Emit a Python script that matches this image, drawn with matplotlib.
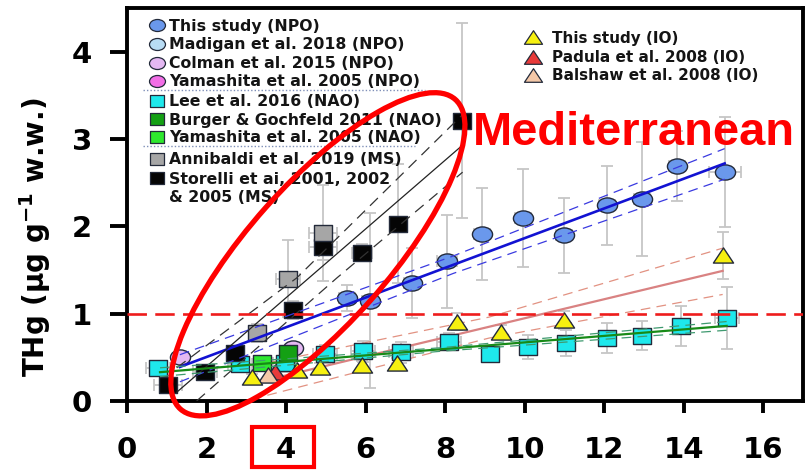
import numpy as np
import matplotlib
matplotlib.use("Agg")
import matplotlib.pyplot as plt
from matplotlib.path import Path
from matplotlib.patches import Ellipse, Rectangle
from matplotlib.transforms import ScaledTranslation

plt.rcParams["lines.scale_dashes"] = False
plt.rcParams["font.family"] = ["DejaVu Sans"]
plt.rcParams["mathtext.fontset"] = "dejavusans"

# ---------------- data ----------------
# This study (NPO)
npo_x = [5.53, 6.10, 7.16, 8.04, 8.92, 9.95, 10.98, 12.06, 12.96, 13.84, 15.03]
npo_y = [1.18, 1.15, 1.35, 1.60, 1.91, 2.10, 1.90, 2.24, 2.31, 2.69, 2.62]
npo_yerr = [0.15, 1.00, 0.40, 0.53, 0.53, 0.56, 0.43, 0.45, 0.65, 0.40, 0.63]
npo_xerr = [0.20, 0.20, 0.20, 0.25, 0.20, 0.20, 0.20, 0.20, 0.20, 0.20, 0.40]

# Colman et al. 2015 (NPO)
colman_x = [1.33, 4.17]
colman_y = [0.50, 0.61]

# Lee et al. 2016 (NAO)
lee_x = [0.78, 2.84, 3.97, 4.97, 5.93, 6.88, 8.09, 9.12, 10.08, 11.05, 12.06, 12.96, 13.94, 15.08]
lee_y = [0.38, 0.42, 0.43, 0.54, 0.57, 0.56, 0.68, 0.54, 0.62, 0.66, 0.72, 0.75, 0.86, 0.95]
lee_yerr = [0.05, 0.08, 0.10, 0.10, 0.12, 0.12, 0.10, 0.08, 0.14, 0.15, 0.17, 0.17, 0.23, 0.35]
lee_xerr = [0.30, 0.30, 0.30, 0.30, 0.30, 0.30, 0.30, 0.20, 0.20, 0.20, 0.20, 0.20, 0.20, 0.30]

# Burger & Gochfeld 2011 (NAO) / Yamashita et al. 2005 (NAO)
burger_x = [4.05]
burger_y = [0.55]
yamashita_nao_x = [3.39]
yamashita_nao_y = [0.43]

# Annibaldi et al. 2019 (MS)
anni_x = [3.27, 4.05, 4.92]
anni_y = [0.78, 1.40, 1.92]
anni_yerr = [0.10, 0.44, 0.55]
anni_xerr = [0.20, 0.30, 0.35]

# Storelli et al. 2001, 2002 & 2005 (MS)
store_x = [1.03, 1.96, 2.71, 4.17, 4.92, 5.90, 6.81, 8.42]
store_y = [0.18, 0.33, 0.55, 1.04, 1.76, 1.70, 2.03, 3.21]
store_yerr = [0.05, 0.05, 0.08, 0.10, 0.15, 0.10, 0.68, 1.12]
store_xerr = [0.35, 0.30, 0.20, 0.20, 0.35, 0.25, 0.20, 0.20]

# This study (IO)
io_x = [3.14, 4.27, 4.85, 5.90, 6.78, 8.30, 9.40, 11.00, 15.00]
io_y = [0.28, 0.35, 0.39, 0.41, 0.43, 0.91, 0.79, 0.93, 1.67]
io_yerr = [0.03, 0.05, 0.05, 0.05, 0.06, 0.10, 0.08, 0.10, 0.27]

# Padula et al. 2008 (IO) / Balshaw et al. 2008 (IO)
padula_x = [3.72]
padula_y = [0.33]
balshaw_x = [3.55]
balshaw_y = [0.30]

# regression lines and confidence bands
npo_fit_x = [1.33, 15.03]
npo_fit_y = [0.39, 2.72]
npo_band_x = [1.33, 8.2, 15.03]
npo_band_hi = [0.53, 1.66, 2.89]
npo_band_lo = [0.22, 1.46, 2.54]

ms_fit_x = [1.25, 8.44]
ms_fit_y = [0.10, 2.93]
ms_hi_x = [1.25, 4.27, 8.44]
ms_hi_y = [0.38, 1.41, 3.28]
ms_lo_x = [1.75, 5.28, 8.44]
ms_lo_y = [0.00, 1.41, 2.62]

nao_fit_x = [0.83, 15.08]
nao_fit_y = [0.33, 0.86]
nao_band_x = [0.83, 7.9, 15.08]
nao_band_hi = [0.38, 0.61, 0.91]
nao_band_lo = [0.28, 0.57, 0.81]

iof_x = [3.14, 14.98]
iof_y = [0.20, 1.49]
iof_band_x = [3.14, 9.1, 14.98]
iof_band_hi = [0.40, 0.96, 1.75]
iof_band_lo = [0.02, 0.72, 1.22]

threshold = 1.0

x_ticks = [0, 2, 4, 6, 8, 10, 12, 14, 16]
y_ticks = [0, 1, 2, 3, 4]

# ---------------- marker shapes (wide) ----------------
_c = Path.unit_circle()
CIRCLE = Path(_c.vertices * np.array([1.33, 1.0]), _c.codes)
SQUARE = Path([(-1.2, -1), (1.2, -1), (1.2, 1), (-1.2, 1), (-1.2, -1)],
              [Path.MOVETO, Path.LINETO, Path.LINETO, Path.LINETO, Path.CLOSEPOLY])
TRIANGLE = Path([(0, 1), (-1.33, -1), (1.33, -1), (0, 1)],
                [Path.MOVETO, Path.LINETO, Path.LINETO, Path.CLOSEPOLY])

C_NPO = "#6a98ec"
C_MADIGAN = "#b8dcf4"
C_COLMAN = "#e4b8f2"
C_YAM_NPO = "#f26ee6"
C_LEE = "#1ee8ec"
C_BURGER = "#14a014"
C_YAM_NAO = "#2ee82e"
C_ANNI = "#a6a6a6"
C_STORE = "#050505"
C_IO = "#f6f010"
C_PADULA = "#e83a3a"
C_BALSHAW = "#f4c8a8"
EDGE = "#232a3a"
ERR = "#c6c6c6"

fig = plt.figure(figsize=(8.06, 4.74), dpi=100)
ax = fig.add_axes([127 / 806, 1 - 401 / 474, 676 / 806, 393 / 474])
ax.set_xlim(0, 17)
ax.set_ylim(0, 4.5)

# error bars
eb = dict(fmt="none", ecolor=ERR, elinewidth=1.3, capsize=4.3, capthick=1.3, zorder=1)
ax.errorbar(npo_x, npo_y, yerr=npo_yerr, xerr=npo_xerr, **eb)
ax.errorbar(lee_x, lee_y, yerr=lee_yerr, xerr=lee_xerr, **eb)
ax.errorbar(anni_x, anni_y, yerr=anni_yerr, xerr=anni_xerr, **eb)
ax.errorbar(store_x, store_y, yerr=store_yerr, xerr=store_xerr, **eb)
ax.errorbar(io_x, io_y, yerr=io_yerr, **eb)


def pts(x, y, marker, color, size):
    ax.plot(x, y, linestyle="none", marker=marker, ms=size, mfc=color,
            mec=EDGE, mew=1.0, zorder=3)


pts(npo_x, npo_y, CIRCLE, C_NPO, 14.5)
pts(colman_x, colman_y, CIRCLE, C_COLMAN, 14.5)
pts(lee_x, lee_y, SQUARE, C_LEE, 13)
pts(yamashita_nao_x, yamashita_nao_y, SQUARE, C_YAM_NAO, 13)
pts(burger_x, burger_y, SQUARE, C_BURGER, 13)
pts(store_x, store_y, SQUARE, C_STORE, 13)
pts(anni_x, anni_y, SQUARE, C_ANNI, 13)
pts(padula_x, padula_y, TRIANGLE, C_PADULA, 14.5)
pts(balshaw_x, balshaw_y, TRIANGLE, C_BALSHAW, 14.5)
pts(io_x, io_y, TRIANGLE, C_IO, 14.5)

# regression lines
dash = (0, (7, 4.5))
ax.plot(npo_fit_x, npo_fit_y, color="#1212d2", lw=1.9, zorder=4)
ax.plot(npo_band_x, npo_band_hi, color="#3a3ae0", lw=0.9, ls=dash, zorder=4)
ax.plot(npo_band_x, npo_band_lo, color="#3a3ae0", lw=0.9, ls=dash, zorder=4)

ax.plot(ms_fit_x, ms_fit_y, color="#222222", lw=0.9, zorder=4)
ax.plot(ms_hi_x, ms_hi_y, color="#333333", lw=0.9, ls=(0, (8, 5)), zorder=4)
ax.plot(ms_lo_x, ms_lo_y, color="#333333", lw=0.9, ls=(0, (8, 5)), zorder=4)

ax.plot(nao_fit_x, nao_fit_y, color="#178a17", lw=1.6, zorder=4)
ax.plot(nao_band_x, nao_band_hi, color="#3f9a70", lw=0.9, ls=dash, zorder=4)
ax.plot(nao_band_x, nao_band_lo, color="#3f9a70", lw=0.9, ls=dash, zorder=4)

ax.plot(iof_x, iof_y, color="#d98282", lw=1.6, zorder=2.5)
ax.plot(iof_band_x, iof_band_hi, color="#e29282", lw=0.9, ls=dash, zorder=2.5)
ax.plot(iof_band_x, iof_band_lo, color="#e29282", lw=0.9, ls=dash, zorder=2.5)

ax.axhline(threshold, color="#ee1c1c", lw=1.9, ls=(0, (14, 6)), zorder=4.5)

# axes styling
for side in ["left", "bottom", "top", "right"]:
    ax.spines[side].set_linewidth(2.8)
    ax.spines[side].set_color("black")
ax.set_xticks(x_ticks)
ax.set_yticks(y_ticks)
ax.tick_params(axis="x", direction="out", length=8.5, width=2.8, pad=17,
               labelsize=21)
ax.tick_params(axis="y", direction="out", length=12, width=2.8, pad=13,
               labelsize=21)
for lab in ax.get_xticklabels() + ax.get_yticklabels():
    lab.set_fontweight("bold")
ax.set_ylabel(r"THg (μg g$^{\mathbf{-1}}$ w.w.)", fontsize=20, fontweight="bold")
ax.yaxis.set_label_coords(-0.136, 0.417)
ax.yaxis.label.set_va("center")

# legends (axes-fraction layout)
def fx(px):
    return (px - 127) / 676


def fy(py):
    return (401 - py) / 393


LEG_FS = 11.3

left_entries = [
    ("This study (NPO)", CIRCLE, C_NPO, 11.5, 25),
    ("Madigan et al. 2018 (NPO)", CIRCLE, C_MADIGAN, 11.5, 44),
    ("Colman et al. 2015 (NPO)", CIRCLE, C_COLMAN, 11.5, 63),
    ("Yamashita et al. 2005 (NPO)", CIRCLE, C_YAM_NPO, 11.5, 81),
    ("Lee et al. 2016 (NAO)", SQUARE, C_LEE, 10, 101),
    ("Burger & Gochfeld 2011 (NAO)", SQUARE, C_BURGER, 10, 119),
    ("Yamashita et al. 2005 (NAO)", SQUARE, C_YAM_NAO, 10, 137),
    ("Annibaldi et al. 2019 (MS)", SQUARE, C_ANNI, 10, 159),
    ("Storelli et ai, 2001, 2002", SQUARE, C_STORE, 10, 178),
]
for label, mk, col, size, py in left_entries:
    ax.plot([fx(157)], [fy(py)], transform=ax.transAxes, linestyle="none",
            marker=mk, ms=size, mfc=col, mec=EDGE, mew=0.9, zorder=5,
            clip_on=False)
    ax.text(fx(169), fy(py + 5.5), label, transform=ax.transAxes,
            fontsize=LEG_FS, fontweight="bold", color="#141414",
            va="baseline", ha="left", zorder=5)
ax.text(fx(169), fy(197 + 5.5), "& 2005 (MS)", transform=ax.transAxes,
        fontsize=LEG_FS, fontweight="bold", color="#141414", va="baseline",
        ha="left", zorder=5)
for py, px_end in [(90, 425), (146, 415)]:
    ax.plot([fx(143), fx(px_end)], [fy(py), fy(py)], transform=ax.transAxes,
            color="#7f8fb8", lw=1.0, ls=(0, (1, 1.5)), zorder=5)

right_entries = [
    ("This study (IO)", C_IO, 37),
    ("Padula et al. 2008 (IO)", C_PADULA, 57),
    ("Balshaw et al. 2008 (IO)", C_BALSHAW, 75),
]
for label, col, py in right_entries:
    ax.plot([fx(533)], [fy(py)], transform=ax.transAxes, linestyle="none",
            marker=TRIANGLE, ms=13, mfc=col, mec=EDGE, mew=0.9, zorder=5)
    ax.text(fx(552), fy(py + 5.5), label, transform=ax.transAxes,
            fontsize=11, fontweight="bold", color="#141414", va="baseline",
            ha="left", zorder=5)

# annotations
ax.text(8.69, 2.93, "Mediterranean", fontsize=33.8, fontweight="bold",
        family="Liberation Sans", color="#ff0000", ha="left", va="baseline",
        zorder=6)
ax.add_patch(Ellipse((0, 0), 414, 140, angle=48.4, fill=False,
                     edgecolor="#ff0000", lw=3.8, zorder=7, clip_on=False,
                     transform=ScaledTranslation(4.8, 1.68, ax.transData)))
ax.add_patch(Rectangle((-34, -66), 62, 40, fill=False, edgecolor="#ff0000",
                       lw=3.0, zorder=7, clip_on=False,
                       transform=ScaledTranslation(4, 0, ax.transData)))

fig.savefig("out.png", dpi=100)
